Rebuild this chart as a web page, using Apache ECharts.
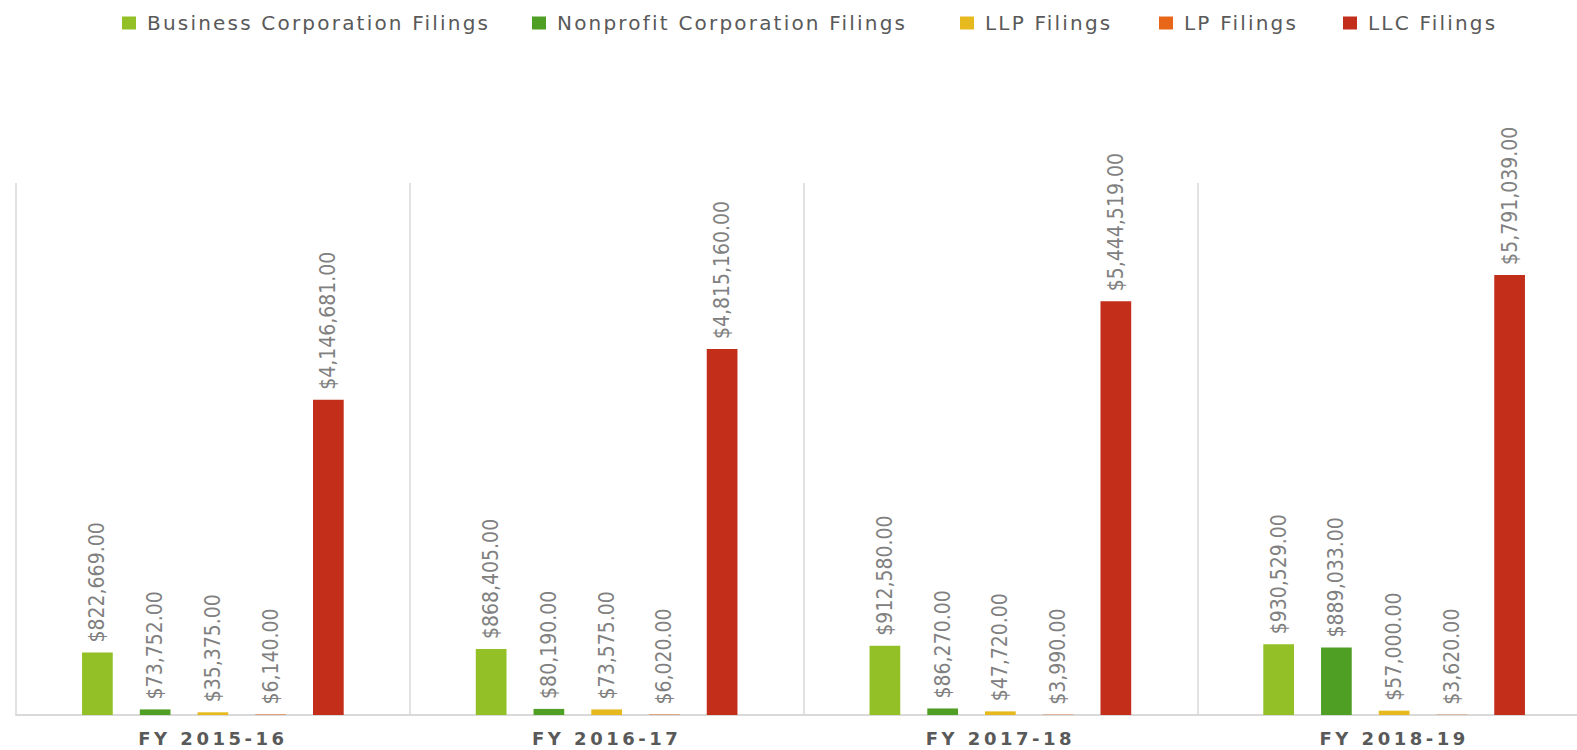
<!DOCTYPE html>
<html><head><meta charset="utf-8">
<script src="https://cdn.jsdelivr.net/npm/echarts@6/dist/echarts.min.js"></script>
<style>html,body{margin:0;padding:0;background:#fff;overflow:hidden;width:1577px;height:750px}#c{width:1610px;height:750px}</style>
</head><body><div id="c"></div>
<script>
const categories = ['FY 2015-16', 'FY 2016-17', 'FY 2017-18', 'FY 2018-19'];
const businessCorp = [822669, 868405, 912580, 930529];
const nonprofitCorp = [73752, 80190, 86270, 889033];
const llp = [35375, 73575, 47720, 57000];
const lp = [6140, 6020, 3990, 3620];
const llc = [4146681, 4815160, 5444519, 5791039];
const seriesNames = ['Business Corporation Filings', 'Nonprofit Corporation Filings', 'LLP Filings', 'LP Filings', 'LLC Filings'];
const colors = ['#92c026', '#4f9f25', '#e6b91e', '#e76618', '#c22e1a'];
const seriesData = [businessCorp, nonprofitCorp, llp, lp, llc];
const legendLeft = [122, 532, 960, 1159, 1343];

const chart = echarts.init(document.getElementById('c'), null, {renderer: 'svg'});
const fmt = v => '$' + Number(v).toLocaleString('en-US', {minimumFractionDigits: 2, maximumFractionDigits: 2});
chart.setOption({
  animation: false,
  color: colors,
  legend: seriesNames.map((n, i) => ({
    top: 13, left: legendLeft[i], padding: 0, itemWidth: 14, itemHeight: 13,
    icon: 'rect',
    textStyle: {color: '#595959', fontSize: 20, lineHeight: 14, fontFamily: 'DejaVu Sans', padding: [0, 0, 0, 6]},
    data: [n]
  })),
  grid: {left: 16, width: 1575, top: 183, bottom: 35},
  xAxis: {
    type: 'category', data: categories,
    axisLine: {lineStyle: {color: '#d9d9d9', width: 2}},
    axisTick: {show: false},
    splitLine: {show: true, lineStyle: {color: '#d9d9d9', width: 1.5}},
    axisLabel: {color: '#595959', fontSize: 18, fontWeight: 'bold', fontFamily: 'DejaVu Sans', margin: 14}
  },
  yAxis: {type: 'value', min: 0, max: 7000000, show: false, splitLine: {show: false}},
  series: seriesData.map((d, i) => ({
    name: seriesNames[i], type: 'bar', data: d,
    barWidth: '7.8%', barGap: '88%', barCategoryGap: '34%',
    label: {
      show: true, position: 'top', rotate: 90, align: 'left', verticalAlign: 'middle',
      distance: 10, color: '#808080', fontSize: 21, fontFamily: 'DejaVu Sans Condensed',
      formatter: p => fmt(p.value)
    }
  }))
});
// letter-spaced texts as in the original
document.querySelectorAll('#c text').forEach(t => {
  if (categories.indexOf(t.textContent) >= 0) t.setAttribute('letter-spacing', '3.5px');
  if (seriesNames.indexOf(t.textContent) >= 0) t.setAttribute('letter-spacing', '2.2px');
});
</script></body></html>
